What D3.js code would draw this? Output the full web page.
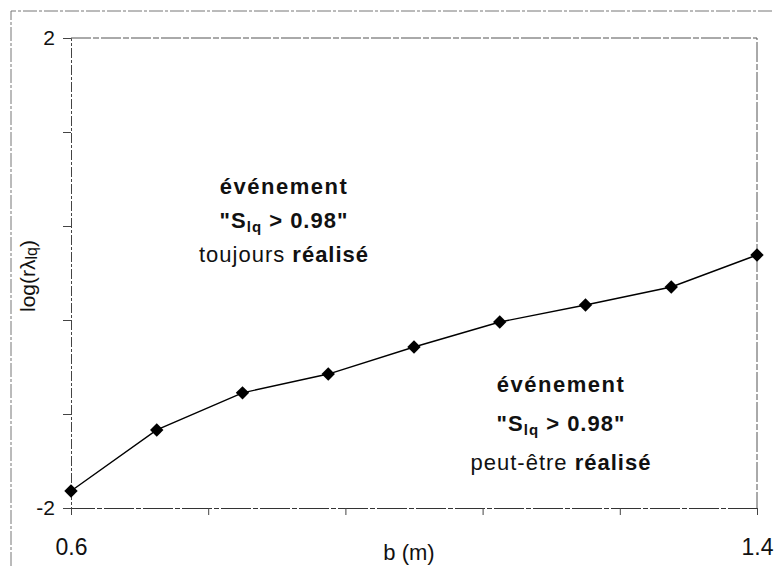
<!DOCTYPE html>
<html>
<head>
<meta charset="utf-8">
<script src="https://cdn.jsdelivr.net/npm/d3@7/dist/d3.min.js"></script>
<style>
  html, body { margin: 0; padding: 0; background: #fff; }
  svg { display: block; font-family: "Liberation Sans", Arial, sans-serif; }
</style>
</head>
<body>
<svg id="chart" width="774" height="570"></svg>
<script>
// Width b (m) and log(r λlq) values along the curve
const bValues = [0.6, 0.7, 0.8, 0.9, 1.0, 1.1, 1.2, 1.3, 1.4];
const logValues = [-1.855, -1.336, -1.02, -0.86, -0.63, -0.417, -0.272, -0.119, 0.153];

// Tick positions and which of them carry a label
const xTicks = [0.6, 0.76, 0.92, 1.08, 1.24, 1.4];
const xTickLabels = ["0.6", "", "", "", "", "1.4"];
const yTicks = [2, 1.2, 0.4, -0.4, -1.2, -2];
const yTickLabels = ["2", "", "", "", "", "-2"];

const svg = d3.select("#chart");
const W = 774, H = 570;
const margin = { left: 71, right: 17, top: 38, bottom: 62 };

const x = d3.scaleLinear().domain([0.6, 1.4]).range([margin.left, W - margin.right]);
const y = d3.scaleLinear().domain([-2, 2]).range([H - margin.bottom, margin.top]);

// outer frame (left and top edges visible)
svg.append("path")
  .attr("d", `M11,566 L11,11 L774,11`)
  .attr("fill", "none").attr("stroke", "#777").attr("stroke-width", 1)
  .attr("stroke-dasharray", "14,2,3,2");

// plot frame: top and right edges
svg.append("path")
  .attr("d", `M${x(0.6)},${y(2)} L${x(1.4)},${y(2)} L${x(1.4)},${y(-2)}`)
  .attr("fill", "none").attr("stroke", "#555").attr("stroke-width", 1)
  .attr("stroke-dasharray", "20,2,6,2");

const fmt = (labels, ticks) => d => labels[ticks.indexOf(d)];

// y axis
const gy = svg.append("g")
  .attr("transform", `translate(${margin.left},0)`)
  .call(d3.axisLeft(y).tickValues(yTicks).tickFormat(fmt(yTickLabels, yTicks))
    .tickSize(8).tickPadding(8));
gy.select(".domain").attr("stroke", "#444").attr("stroke-dasharray", "10,2,3,2");
gy.selectAll(".tick line").attr("stroke", "#444");
gy.selectAll(".tick text").attr("font-size", 21).attr("fill", "#111")
  .attr("font-family", "Liberation Sans, Arial, sans-serif");

// x axis
const gx = svg.append("g")
  .attr("transform", `translate(0,${y(-2)})`)
  .call(d3.axisBottom(x).tickValues(xTicks).tickFormat(fmt(xTickLabels, xTicks))
    .tickSize(7).tickPadding(24));
gx.select(".domain").attr("stroke", "#333").attr("stroke-dasharray", "30,2,5,2");
gx.selectAll(".tick line").attr("stroke", "#444");
gx.selectAll(".tick text").attr("font-size", 23).attr("fill", "#111")
  .attr("font-family", "Liberation Sans, Arial, sans-serif");

// axis titles
svg.append("text")
  .attr("x", 409).attr("y", 560)
  .attr("text-anchor", "middle").attr("font-size", 22).attr("fill", "#111")
  .text("b (m)");

const yl = svg.append("text")
  .attr("transform", `translate(35,${y(0) + 3}) rotate(-90)`)
  .attr("text-anchor", "middle").attr("font-size", 21).attr("fill", "#111");
yl.append("tspan").text("log(rλ");
yl.append("tspan").attr("font-size", 16).attr("dy", 2).text("lq");
yl.append("tspan").attr("dy", -2).text(")");

// curve
const pts = bValues.map((b, i) => [b, logValues[i]]);
svg.append("path")
  .datum(pts)
  .attr("fill", "none").attr("stroke", "#000").attr("stroke-width", 1.4)
  .attr("d", d3.line().x(d => x(d[0])).y(d => y(d[1])));

svg.selectAll(".marker")
  .data(pts).enter().append("path")
  .attr("class", "marker")
  .attr("transform", d => `translate(${x(d[0])},${y(d[1])}) rotate(45)`)
  .attr("d", d3.symbol().type(d3.symbolSquare).size(90))
  .attr("fill", "#000");

// region annotations
function note(cx, cy, gap, lastPlain, lastBold) {
  const g = svg.append("g").attr("text-anchor", "middle").attr("fill", "#111")
    .attr("font-size", 22);
  g.append("text").attr("x", cx).attr("y", cy).attr("font-weight", "bold")
    .attr("letter-spacing", 1.5).text("événement");
  const t = g.append("text").attr("x", cx).attr("y", cy + gap).attr("font-weight", "bold")
    .attr("letter-spacing", 1);
  t.append("tspan").text("\"S");
  t.append("tspan").attr("font-size", 15).attr("dy", 4).text("lq");
  t.append("tspan").attr("dy", -4).text(" > 0.98\"");
  const l = g.append("text").attr("x", cx).attr("y", cy + 2 * gap).attr("letter-spacing", 1);
  l.append("tspan").text(lastPlain + " ");
  l.append("tspan").attr("font-weight", "bold").text(lastBold);
}
note(284, 194, 34, "toujours", "réalisé");
note(561, 392, 39, "peut-être", "réalisé");
</script>
</body>
</html>
